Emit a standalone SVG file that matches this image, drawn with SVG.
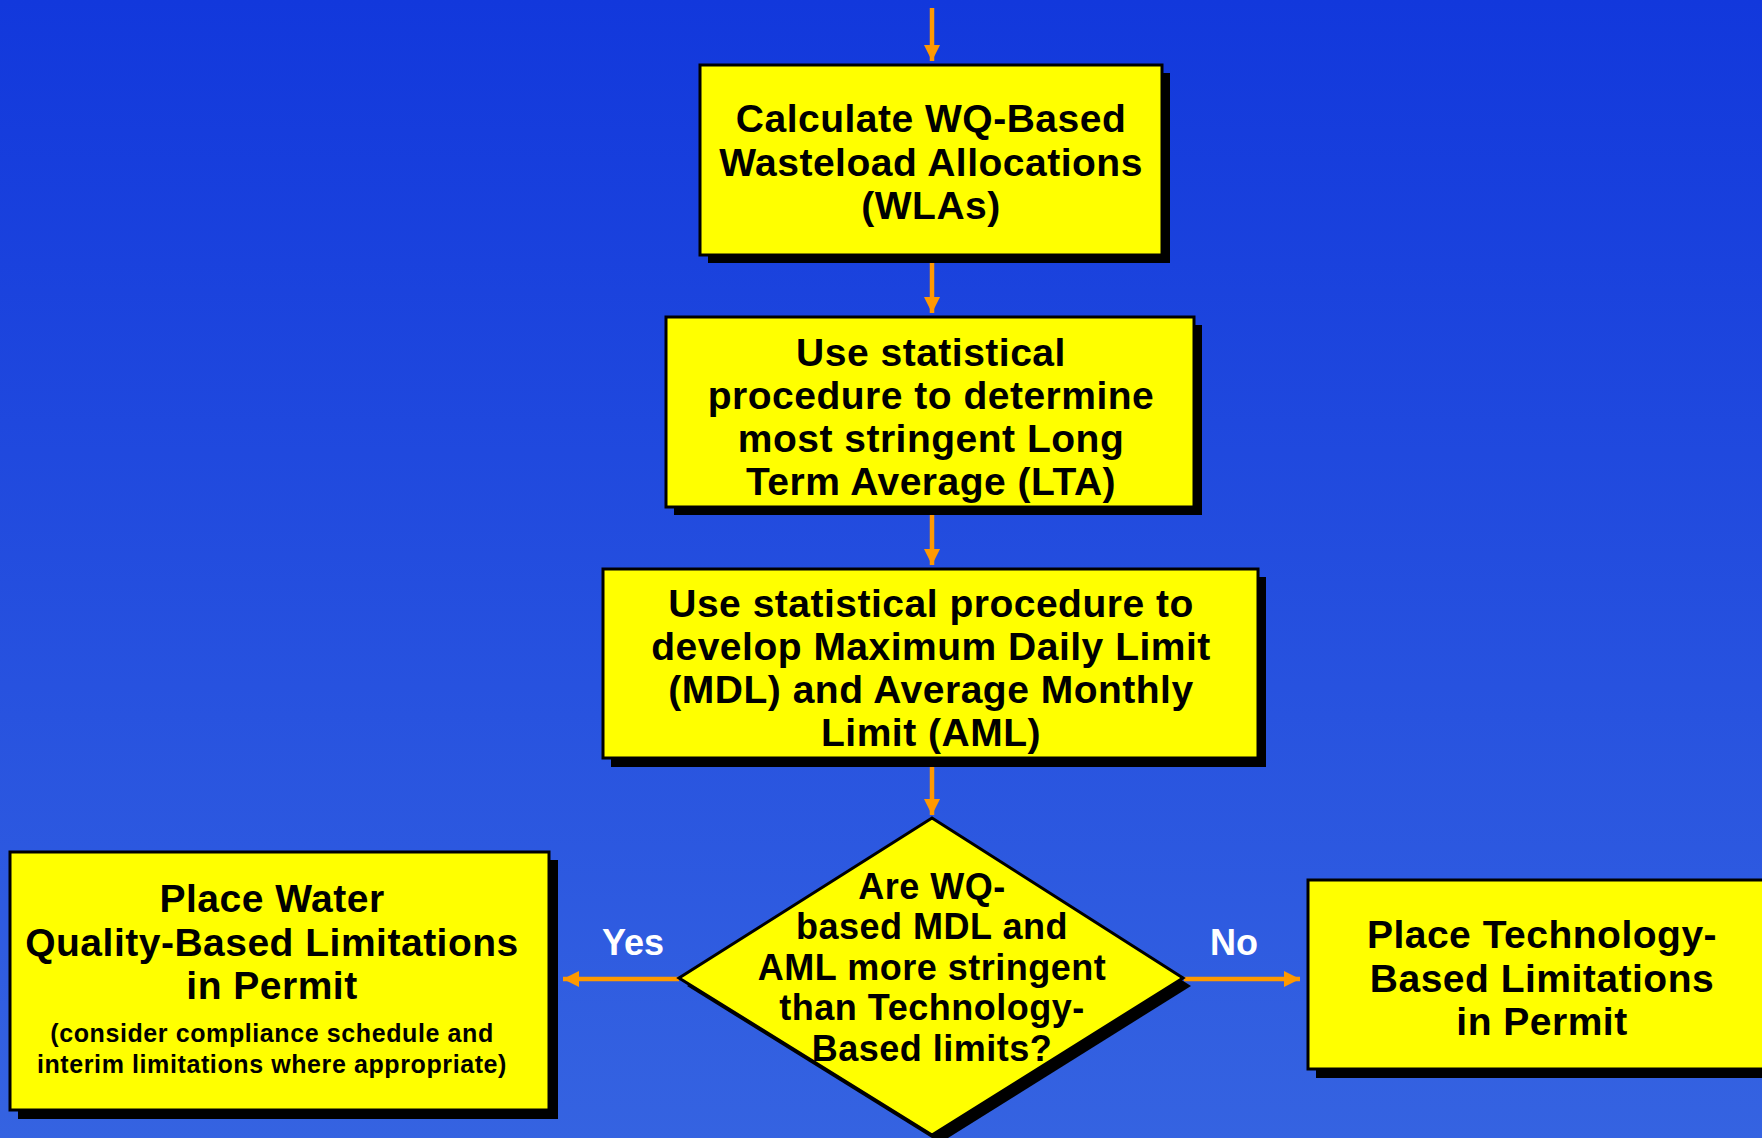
<svg xmlns="http://www.w3.org/2000/svg" width="1762" height="1138" viewBox="0 0 1762 1138">
<defs>
<linearGradient id="bg" x1="0" y1="0" x2="0" y2="1">
<stop offset="0" stop-color="#1238DC"/>
<stop offset="1" stop-color="#3563E1"/>
</linearGradient>
<marker id="ah" viewBox="0 0 16 16" refX="16" refY="8" markerWidth="16" markerHeight="16" markerUnits="userSpaceOnUse" orient="auto">
<path d="M0,0 L16,8 L0,16 Z" fill="#FF9900"/>
</marker>
<style>
.box{fill:#FFFF00;stroke:#000;stroke-width:3}
.sh{fill:#000}
.conn{stroke:#FF9900;stroke-width:4.5;fill:none;marker-end:url(#ah)}
.t{font-family:"Liberation Sans",Arial,sans-serif;font-weight:bold;font-size:39px;letter-spacing:0.5px;fill:#000;text-anchor:middle}
.td{font-size:36px}
.ts{font-size:25px;letter-spacing:0.6px}
.lbl{font-family:"Liberation Sans",Arial,sans-serif;font-weight:bold;font-size:36px;fill:#FFFFFF;text-anchor:middle}
</style>
</defs>
<rect width="1762" height="1138" fill="url(#bg)"/>
<g id="connectors">
<line class="conn" x1="932" y1="8" x2="932" y2="61"/>
<line class="conn" x1="932" y1="258" x2="932" y2="313"/>
<line class="conn" x1="932" y1="510" x2="932" y2="565"/>
<line class="conn" x1="932" y1="760" x2="932" y2="815"/>
<line class="conn" x1="679" y1="979" x2="563" y2="979"/>
<line class="conn" x1="1184" y1="979" x2="1300" y2="979"/>
<text class="lbl" x="633" y="955">Yes</text>
<text class="lbl" x="1234" y="955">No</text>
</g>
<g id="n1">
<rect class="sh" x="708" y="73" width="462" height="190"/>
<rect class="box" x="700" y="65" width="462" height="190"/>
<text class="t" x="931" y="132">Calculate WQ-Based</text>
<text class="t" x="931" y="176">Wasteload Allocations</text>
<text class="t" x="931" y="219">(WLAs)</text>
</g>
<g id="n2">
<rect class="sh" x="674" y="325" width="528" height="190"/>
<rect class="box" x="666" y="317" width="528" height="190"/>
<text class="t" x="931" y="366">Use statistical</text>
<text class="t" x="931" y="409">procedure to determine</text>
<text class="t" x="931" y="452">most stringent Long</text>
<text class="t" x="931" y="495">Term Average (LTA)</text>
</g>
<g id="n3">
<rect class="sh" x="611" y="577" width="655" height="190"/>
<rect class="box" x="603" y="569" width="655" height="189"/>
<text class="t" x="931" y="617">Use statistical procedure to</text>
<text class="t" x="931" y="660">develop Maximum Daily Limit</text>
<text class="t" x="931" y="703">(MDL) and Average Monthly</text>
<text class="t" x="931" y="746">Limit (AML)</text>
</g>
<g id="n4">
<polygon class="sh" points="940,826 1191,986 940,1143 687,986"/>
<polygon class="box" points="932,818 1183,978 932,1135 679,978"/>
<text class="t td" x="932" y="899">Are WQ-</text>
<text class="t td" x="932" y="939">based MDL and</text>
<text class="t td" x="932" y="980">AML more stringent</text>
<text class="t td" x="932" y="1020">than Technology-</text>
<text class="t td" x="932" y="1061">Based limits?</text>
</g>
<g id="n5">
<rect class="sh" x="18" y="860" width="540" height="259"/>
<rect class="box" x="10" y="852" width="539" height="258"/>
<text class="t" x="272" y="912">Place Water</text>
<text class="t" x="272" y="956">Quality-Based Limitations</text>
<text class="t" x="272" y="999">in Permit</text>
<text class="t ts" x="272" y="1042">(consider compliance schedule and</text>
<text class="t ts" x="272" y="1073">interim limitations where appropriate)</text>
</g>
<g id="n6">
<rect class="sh" x="1316" y="888" width="460" height="190"/>
<rect class="box" x="1308" y="880" width="470" height="189"/>
<text class="t" x="1542" y="948">Place Technology-</text>
<text class="t" x="1542" y="992">Based Limitations</text>
<text class="t" x="1542" y="1035">in Permit</text>
</g>
</svg>
